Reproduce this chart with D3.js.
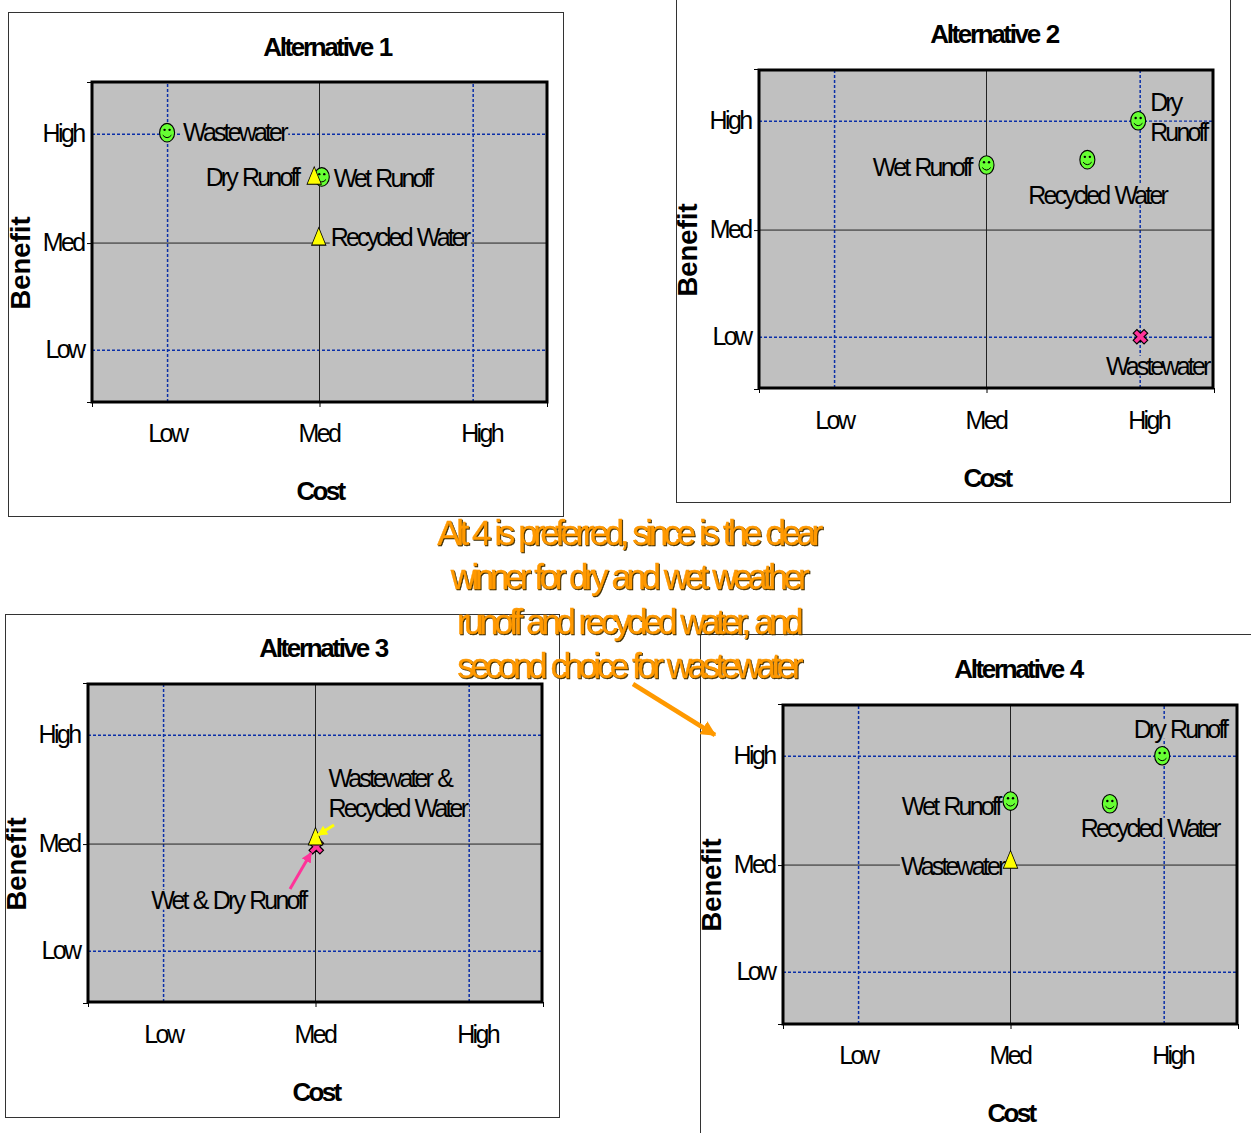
<!DOCTYPE html>
<html><head><meta charset="utf-8">
<script src="https://cdnjs.cloudflare.com/ajax/libs/d3/7.8.5/d3.min.js"></script>
<style>
html,body{margin:0;padding:0;background:#fff;overflow:hidden}
svg{display:block}
text{font-family:"Liberation Sans",Arial,sans-serif;fill:#000}
.lab{font-size:25px;letter-spacing:-2.85px;word-spacing:2px}
.tick text{font-size:25px;letter-spacing:-2.6px;fill:#000}
.title{font-size:26px;font-weight:bold;letter-spacing:-2.35px;word-spacing:2px}
.cost{font-size:26px;font-weight:bold;letter-spacing:-2.7px}
.benefit{font-size:27.5px;font-weight:bold}
.note{font-size:35px;letter-spacing:-4.5px;word-spacing:2.2px;fill:#ff9900;stroke:#ff9900;stroke-width:.4px}
</style></head><body><script>
const xTickLabels = ["Low","Med","High"];
const yTickLabels = ["Low","Med","High"];
const labelTicks = [1,3,5];
const frameTicksX = [0,3,6];
const frameTicksY = [0,2.98,6];
const gridX = [0.99,5.02];
const gridY = [0.98,5.03];

const alt1Names = ["Wastewater","Wet Runoff","Dry Runoff","Recycled Water"];
const alt1Cost = [0.99,3.03,2.93,2.99];
const alt1Benefit = [5.05,4.22,4.22,3.08];
const alt1Marks = ["smile","smile","tri","tri"];

const alt2Names = ["Wet Runoff","Recycled Water","Dry Runoff","Wastewater"];
const alt2Cost = [3.0,4.33,5.0,5.03];
const alt2Benefit = [4.2,4.3,5.03,0.98];
const alt2Marks = ["smile","smile","smile","x"];

const alt3Names = ["Wet & Dry Runoff","Wastewater & Recycled Water"];
const alt3Cost = [3.01,3.0];
const alt3Benefit = [2.93,3.1];
const alt3Marks = ["x","tri"];

const alt4Names = ["Dry Runoff","Wet Runoff","Recycled Water","Wastewater"];
const alt4Cost = [5.0,3.0,4.31,3.0];
const alt4Benefit = [5.03,4.18,4.13,3.06];
const alt4Marks = ["smile","smile","smile","tri"];

const noteLines = ["Alt 4 is preferred, since is the clear","winner for dry and wet weather","runoff and recycled water, and","second choice for wastewater"];

const alt1Place = [["start",16,[-1]],["start",12,[1]],["end",-16,[0]],["start",12,[-1]]];
const alt2Place = [["end",-16,[2]],["start",-59,[35]],["start",12,[-19,11]],["end",68,[29]]];
const alt3Place = [["end",-11,[53]],["start",13,[-60,-30]]];
const alt4Place = [["end",64,[-27]],["end",-11,[5]],["start",-29,[24]],["end",-7,[5]]];
const alt2Lines = [null,null,["Dry","Runoff"],null];
const alt3Lines = [null,["Wastewater &","Recycled Water"]];

const W=1251,H=1133;
const svg=d3.select("body").append("svg").attr("width",W).attr("height",H);
const gray="#c0c0c0", blue="#0a2fa8";
const defs=svg.append("defs");
[["ay","#ffff00"],["ap","#ff3399"],["ao","#ff9900"]].forEach(([id,c])=>{
  defs.append("marker").attr("id",id).attr("viewBox","0 0 10 10").attr("refX",9).attr("refY",5)
    .attr("markerWidth",3.4).attr("markerHeight",3.4).attr("orient","auto")
    .append("path").attr("d","M0,0L10,5L0,10Z").attr("fill",c);
});

function panel(o){
  const g=svg.append("g").attr("transform",`translate(${o.dx},${o.dy})`);
  const fr=o.frame||[8.5,12.5,555,504];
  g.append("rect").attr("x",fr[0]).attr("y",fr[1]).attr("width",fr[2]).attr("height",fr[3])
    .attr("fill","none").attr("stroke","#333").attr("stroke-width",1);
  const box=o.box||[92,82,455,320];
  const x=d3.scaleLinear().domain([0,6]).range([92,547]);
  const y=d3.scaleLinear().domain([0,6]).range([402,82]);
  g.append("rect").attr("x",box[0]).attr("y",box[1]).attr("width",box[2]).attr("height",box[3]).attr("fill",gray);

  const gx=g.append("g").attr("transform",`translate(0,${box[1]+box[3]})`)
    .call(d3.axisBottom(x).tickValues(gridX).tickSize(-box[3]).tickFormat(""));
  const gy=g.append("g").attr("transform","translate(92,0)")
    .call(d3.axisLeft(y).tickValues(gridY).tickSize(-box[2]).tickFormat(""));
  [gx,gy].forEach(a=>{a.select(".domain").remove();
    a.selectAll("line").attr("stroke",blue).attr("stroke-dasharray","3 2");});
  gx.selectAll("line").attr("stroke-width",1.5);
  gy.selectAll("line").attr("stroke-width",1.7);

  const fx=g.append("g").attr("transform",`translate(0,${box[1]+box[3]})`)
    .call(d3.axisBottom(x).tickValues(frameTicksX).tickSize(5).tickFormat(""));
  const fy=g.append("g").attr("transform","translate(92,0)")
    .call(d3.axisLeft(y).tickValues(frameTicksY).tickSize(5).tickFormat(""));
  [fx,fy].forEach(a=>{a.select(".domain").remove();a.selectAll("line").attr("stroke","#000");});
  g.append("line").attr("x1",x(3)).attr("x2",x(3)).attr("y1",box[1]).attr("y2",box[1]+box[3]).attr("stroke","#222");
  g.append("line").attr("x1",box[0]).attr("x2",box[0]+box[2]).attr("y1",y(2.98)).attr("y2",y(2.98)).attr("stroke","#222");
  g.append("rect").attr("x",box[0]).attr("y",box[1]).attr("width",box[2]).attr("height",box[3])
    .attr("fill","none").attr("stroke","#000").attr("stroke-width",3);

  const tx=g.append("g").attr("transform","translate(0,402)")
    .call(d3.axisBottom(x).tickValues(labelTicks).tickSize(0).tickPadding(22)
      .tickFormat((d,i)=>xTickLabels[i]));
  tx.select(".domain").remove();
  tx.selectAll("text").attr("dx",(d,i)=>[-1,-1,10][i]);
  const ty=g.append("g").attr("transform","translate(92,0)")
    .call(d3.axisLeft(y).tickValues(labelTicks).tickSize(0).tickPadding(8.5)
      .tickFormat((d,i)=>yTickLabels[i]));
  ty.select(".domain").remove();
  ty.selectAll("text").attr("transform",(d,i)=>`translate(0,${[1,0,-2][i]})`);

  g.append("text").attr("class","title").attr("x",327).attr("y",56).attr("text-anchor","middle").text(o.title);
  g.append("text").attr("class","cost").attr("x",320).attr("y",500).attr("text-anchor","middle").text("Cost");
  g.append("text").attr("class","benefit").attr("transform","translate(30,263) rotate(-90)").attr("text-anchor","middle").text("Benefit");

  const labG=g.append("g");
  o.names.forEach((n,i)=>{
    const [anchor,dx,dys]=o.place[i];
    const lines=(o.lines&&o.lines[i])||[n];
    lines.forEach((t,k)=>{
      const tg=labG.append("g");
      const te=tg.append("text").attr("class","lab").attr("text-anchor",anchor)
        .attr("x",x(o.cost[i])+dx).attr("y",y(o.ben[i])+dys[k]+9).text(t);
      const b=te.node().getBBox();
      tg.insert("rect","text").attr("x",b.x-1).attr("y",b.y+4).attr("width",b.width+1).attr("height",b.height-8).attr("fill",gray);
    });
  });

  o.names.forEach((n,i)=>{
    const m=g.append("g").attr("transform",`translate(${x(o.cost[i])},${y(o.ben[i])})`);
    if(o.marks[i]==="smile"){
      m.append("ellipse").attr("rx",7.5).attr("ry",9.3).attr("fill","#66ff33").attr("stroke","#000").attr("stroke-width",1.1);
      m.append("circle").attr("cx",-2.5).attr("cy",-2.8).attr("r",1.2).attr("fill","#000");
      m.append("circle").attr("cx",2.5).attr("cy",-2.8).attr("r",1.2).attr("fill","#000");
      m.append("path").attr("d","M-4.3,2.5Q0,7.5 4.3,2.5").attr("fill","none").attr("stroke","#000").attr("stroke-width",1);
    } else if(o.marks[i]==="tri"){
      m.append("path").attr("d",d3.symbol(d3.symbolTriangle,110)())
        .attr("transform","translate(0,1.5) scale(0.9,1.28)")
        .attr("fill","#ffff00").attr("stroke","#000").attr("stroke-width",0.8);
    } else {
      m.append("path").attr("d",d3.symbol(d3.symbolCross,130)()).attr("transform","rotate(45)")
        .attr("fill","#ff3399").attr("stroke","#000").attr("stroke-width",1.2);
    }
  });
}

panel({dx:0,dy:0,title:"Alternative 1",names:alt1Names,cost:alt1Cost,ben:alt1Benefit,marks:alt1Marks,place:alt1Place});
panel({dx:667,dy:-13,frame:[9.5,12.5,554,503],box:[92,83,454,318],title:"Alternative 2",names:alt2Names,cost:alt2Cost,ben:alt2Benefit,marks:alt2Marks,place:alt2Place,lines:alt2Lines});
panel({dx:-4,dy:601,frame:[9.5,13.5,554,503],box:[92,83,454,318],title:"Alternative 3",names:alt3Names,cost:alt3Cost,ben:alt3Benefit,marks:alt3Marks,place:alt3Place,lines:alt3Lines});
panel({dx:691,dy:622,frame:[9.5,12.5,555,504],box:[92,83,454,319],title:"Alternative 4",names:alt4Names,cost:alt4Cost,ben:alt4Benefit,marks:alt4Marks,place:alt4Place});

const top3=svg.append("g");
top3.append("line").attr("x1",334).attr("y1",825).attr("x2",318).attr("y2",835)
  .attr("stroke","#ffff00").attr("stroke-width",3).attr("marker-end","url(#ay)");
top3.append("line").attr("x1",290).attr("y1",889).attr("x2",311).attr("y2",853)
  .attr("stroke","#ff3399").attr("stroke-width",3).attr("marker-end","url(#ap)");

const note=svg.append("g").style("filter","drop-shadow(1px 1px 0 #3a2a00)");
note.selectAll("text").data(noteLines).join("text").attr("class","note")
  .attr("x",628).attr("y",(d,i)=>545+i*44.3).attr("text-anchor","middle").text(d=>d);
svg.append("line").attr("x1",633).attr("y1",684).attr("x2",715).attr("y2",735)
  .attr("stroke","#ff9900").attr("stroke-width",4.5).attr("marker-end","url(#ao)");
</script></body></html>
